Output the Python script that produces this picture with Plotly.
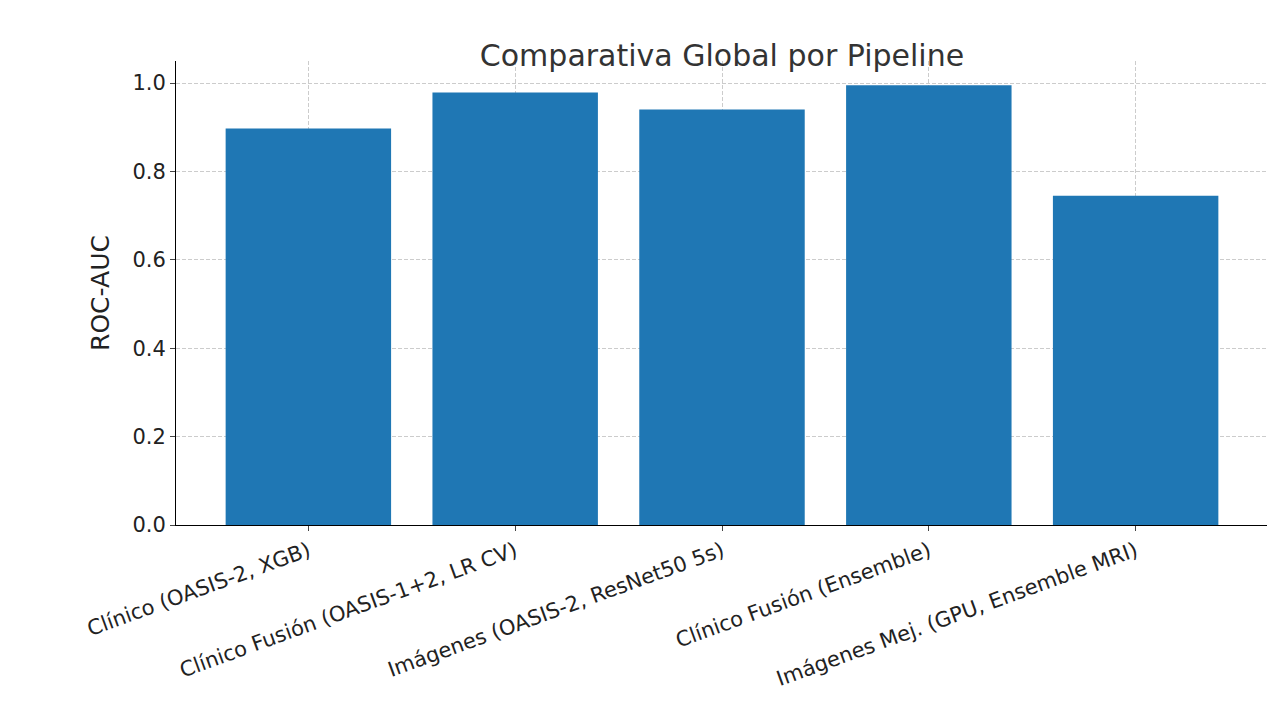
import plotly.graph_objects as go

categories = ["Clínico (OASIS-2, XGB)", "Clínico Fusión (OASIS-1+2, LR CV)",
              "Imágenes (OASIS-2, ResNet50 5s)", "Clínico Fusión (Ensemble)",
              "Imágenes Mej. (GPU, Ensemble MRI)"]
values = [0.897, 0.979, 0.940, 0.995, 0.745]

fig = go.Figure(go.Bar(x=list(range(len(categories))), y=values, marker_color="#1f77b4",
                       marker_line_width=0, width=0.8))
fig.update_layout(
    width=1275, height=720, plot_bgcolor="white", paper_bgcolor="white",
    margin=dict(l=168, r=15, t=53, b=203),
    font=dict(family="DejaVu Sans", size=21, color="#222"),
    title=dict(text="Comparativa Global por Pipeline", x=0.56, xanchor="center", y=0.948,
               font=dict(size=30, color="#333")),
    showlegend=False,
)
fig.update_xaxes(tickmode="array", tickvals=list(range(len(categories))), ticktext=categories,
                 tickangle=-20, range=[-0.64, 4.64], showline=True, linecolor="black",
                 ticks="outside", ticklen=5, showgrid=True, gridcolor="#cccccc", griddash="4px,2px",
                 gridwidth=1)
fig.update_yaxes(title_text="ROC-AUC", range=[0, 1.05], dtick=0.2, tickformat=".1f",
                 showline=True, linecolor="black", ticks="outside", ticklen=5,
                 showgrid=True, gridcolor="#cccccc", griddash="4px,2px", zeroline=False)
fig.write_html("out.html")
